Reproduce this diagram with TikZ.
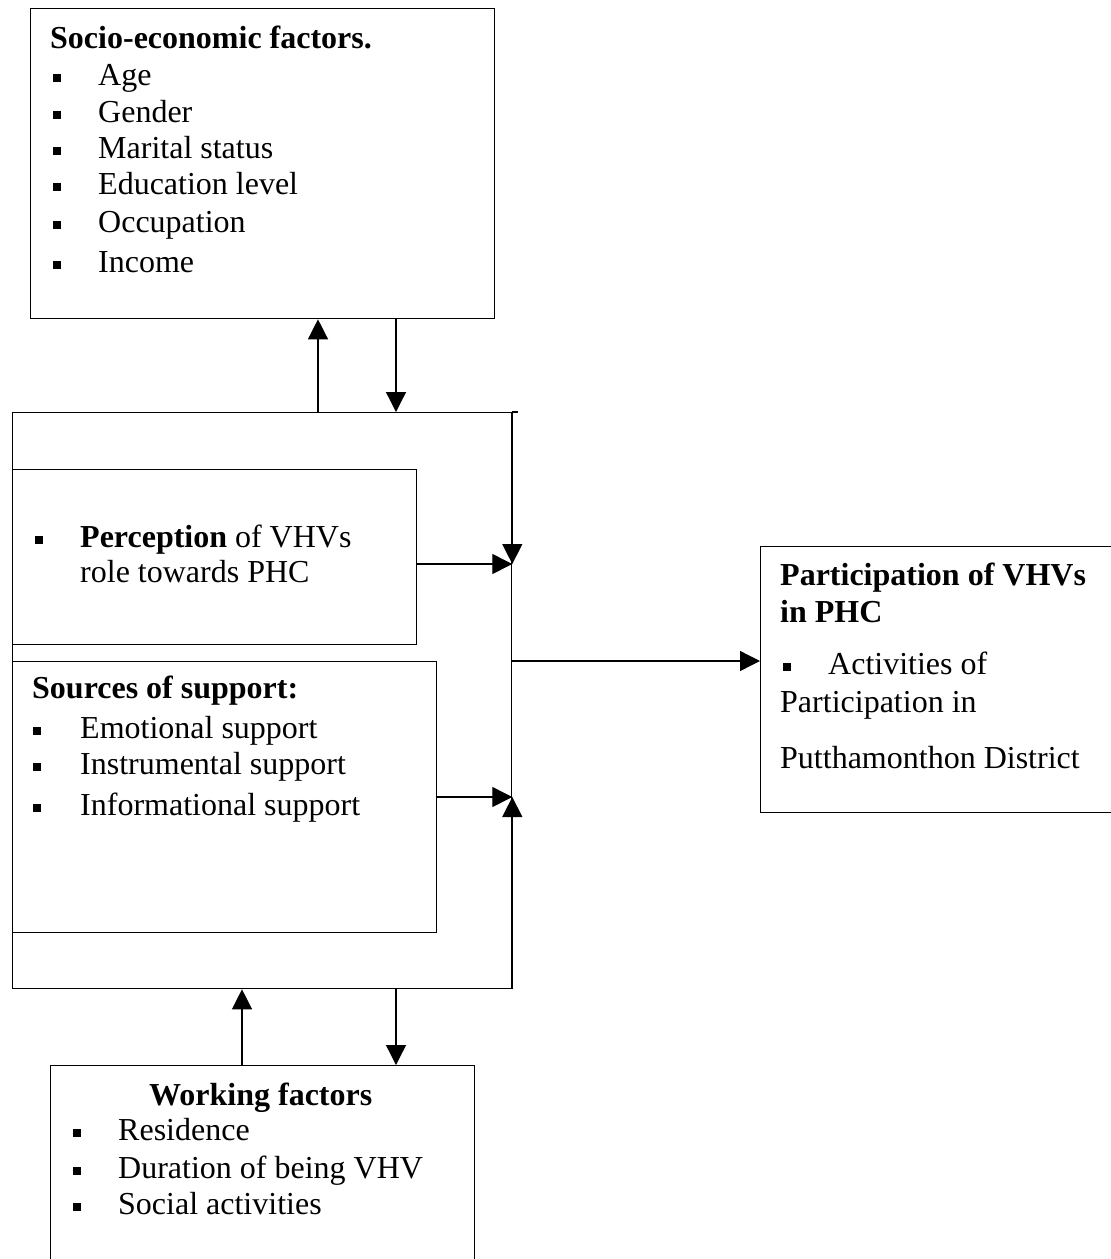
\documentclass[tikz,border=0pt]{standalone}
\usepackage{fontspec}
\setmainfont{Liberation Serif}
\usetikzlibrary{arrows.meta,calc}
\newcommand\sqbul{\rule[3pt]{8pt}{8pt}}
\begin{document}
\begin{tikzpicture}[x=1pt,y=-1pt,
  box/.style={draw, line width=1.3pt, inner sep=0pt, anchor=north west},
  txt/.style={anchor=base west, inner sep=0pt, font=\fontsize{32}{36}\selectfont},
  btxt/.style={anchor=base west, inner sep=0pt, font=\fontsize{32}{36}\selectfont\bfseries},
  arr/.style={line width=1.3pt, -{Triangle[length=20pt,width=20pt]}},
  ln/.style={line width=1.3pt}]
\path[use as bounding box] (0,0) rectangle (1111,1259);
\clip (0,0) rectangle (1111,1259);
% boxes
\node[box, minimum width=464pt, minimum height=310pt] (socio) at (30,8) {};
\node[box, minimum width=499pt, minimum height=576pt] (big) at (12,412) {};
\node[box, minimum width=404pt, minimum height=175pt] (perc) at (12,469) {};
\node[box, minimum width=424pt, minimum height=271pt] (src) at (12,661) {};
\node[box, minimum width=400pt, minimum height=266pt] (part) at (760,546) {};
\node[box, minimum width=424pt, minimum height=260pt] (work) at (50,1065) {};
% socio-economic text
\node[btxt] (s0) at (50,48) {Socio-economic factors.};
\node[txt] (s1) at (53,85) {\makebox[45pt][l]{\sqbul}Age};
\node[txt] (s2) at (53,122) {\makebox[45pt][l]{\sqbul}Gender};
\node[txt] (s3) at (53,158) {\makebox[45pt][l]{\sqbul}Marital status};
\node[txt] (s4) at (53,194) {\makebox[45pt][l]{\sqbul}Education level};
\node[txt] (s5) at (53,232) {\makebox[45pt][l]{\sqbul}Occupation};
\node[txt] (s6) at (53,272) {\makebox[45pt][l]{\sqbul}Income};
% perception text
\node[txt] (p1) at (35,547) {\makebox[45pt][l]{\sqbul}\textbf{Perception} of VHVs};
\node[txt] (p2) at (80,582) {role towards PHC};
% sources text
\node[btxt] (r0) at (32,698) {Sources of support:};
\node[txt] (r1) at (33,738) {\makebox[47pt][l]{\sqbul}Emotional support};
\node[txt] (r2) at (33,774) {\makebox[47pt][l]{\sqbul}Instrumental support};
\node[txt] (r3) at (33,815) {\makebox[47pt][l]{\sqbul}Informational support};
% participation text
\node[btxt] (q0) at (780,585) {Participation of VHVs};
\node[btxt] (q1) at (780,622) {in PHC};
\node[txt] (q2) at (783,674) {\makebox[45pt][l]{\sqbul}Activities of};
\node[txt] (q3) at (780,712) {Participation in};
\node[txt] (q4) at (780,768) {Putthamonthon District};
% working text
\node[btxt] (w0) at (149,1105) {Working factors};
\node[txt] (w1) at (73,1140) {\makebox[45pt][l]{\sqbul}Residence};
\node[txt] (w2) at (73,1178) {\makebox[45pt][l]{\sqbul}Duration of being VHV};
\node[txt] (w3) at (73,1214) {\makebox[45pt][l]{\sqbul}Social activities};
% helper coordinates
\coordinate (xa) at (318,0);
\coordinate (xb) at (396,0);
\coordinate (xc) at (242,0);
\coordinate (yp) at (0,564);
\coordinate (ys) at (0,797);
\coordinate (yo) at (0,661);
% connectors
\draw[arr] (big.north -| xa) -- (socio.south -| xa);
\draw[arr] (socio.south -| xb) -- (big.north -| xb);
\draw[ln] (big.north east) -- ++(6,0);
\draw[arr] (big.north east) -- (big.east |- yp);
\draw[arr] (perc.east |- yp) -- (big.east |- yp);
\draw[arr] (src.east |- ys) -- (big.east |- ys);
\draw[arr] (big.south east) -- (big.east |- ys);
\draw[arr] (big.east |- yo) -- (part.west |- yo);
\draw[arr] (work.north -| xc) -- (big.south -| xc);
\draw[arr] (big.south -| xb) -- (work.north -| xb);
\end{tikzpicture}
\end{document}
